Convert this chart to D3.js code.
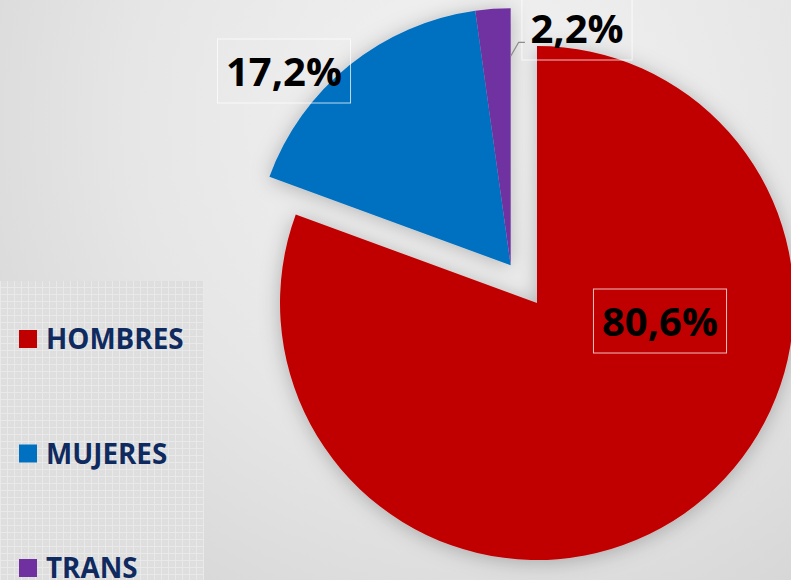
<!DOCTYPE html>
<html>
<head>
<meta charset="utf-8">
<script src="https://cdn.jsdelivr.net/npm/d3@7"></script>
<style>
  html, body { margin: 0; padding: 0; overflow: hidden; }
  svg { display: block; }
</style>
</head>
<body>
<script>
// ---- data ----
const categories = ["HOMBRES", "MUJERES", "TRANS"];
const values = [80.6, 17.2, 2.2];
const valueLabels = ["80,6%", "17,2%", "2,2%"];
const colors = ["#C00000", "#0070C0", "#7030A0"];
const exploded = [false, true, true];

// ---- layout ----
const W = 791, H = 580;
const cx = 537, cy = 303, R = 257, explodeDist = 46;
const labelBoxes = [ // centers of label boxes
  [660, 321], [284, 71], [577, 28]
];
const boxH = 64, boxPad = 8.5;

const svg = d3.select("body").append("svg").attr("width", W).attr("height", H);
const defs = svg.append("defs");

const bg = defs.append("radialGradient").attr("id", "bg")
  .attr("gradientUnits", "userSpaceOnUse")
  .attr("cx", 470).attr("cy", 120).attr("r", 620);
bg.append("stop").attr("offset", "0").attr("stop-color", "#f3f3f3");
bg.append("stop").attr("offset", "0.55").attr("stop-color", "#e6e6e6");
bg.append("stop").attr("offset", "1").attr("stop-color", "#d3d3d3");

const pat = defs.append("pattern").attr("id", "grid")
  .attr("patternUnits", "userSpaceOnUse").attr("width", 7).attr("height", 7);
pat.append("rect").attr("width", 7).attr("height", 7).attr("fill", "#dedede");
pat.append("rect").attr("x", 0).attr("y", 0).attr("width", 7).attr("height", 1).attr("fill", "#e9e9e9");
pat.append("rect").attr("x", 0).attr("y", 0).attr("width", 1).attr("height", 7).attr("fill", "#e9e9e9");
pat.append("rect").attr("x", 3).attr("y", 3).attr("width", 1).attr("height", 1).attr("fill", "#e3e3e3");

const sh = defs.append("filter").attr("id", "shadow")
  .attr("x", "-20%").attr("y", "-20%").attr("width", "140%").attr("height", "140%");
sh.append("feDropShadow").attr("dx", 0).attr("dy", 2).attr("stdDeviation", 10)
  .attr("flood-color", "#000").attr("flood-opacity", 0.25);

svg.append("rect").attr("width", W).attr("height", H).attr("fill", "url(#bg)");

// legend panel
svg.append("rect").attr("x", 0).attr("y", 281).attr("width", 204).attr("height", H - 281)
  .attr("fill", "url(#grid)");

// ---- pie ----
const pie = d3.pie().sort(null).value(d => d);
const arcs = pie(values);
const arc = d3.arc().innerRadius(0).outerRadius(R);

// explosion offset along the bisector of the exploded group
const exp = arcs.filter((a, i) => exploded[i]);
const gStart = d3.min(exp, a => a.startAngle), gEnd = d3.max(exp, a => a.endAngle);
const gMid = (gStart + gEnd) / 2;
const ox = Math.sin(gMid) * explodeDist, oy = -Math.cos(gMid) * explodeDist;

const pieG = svg.append("g").attr("filter", "url(#shadow)");
pieG.selectAll("path").data(arcs).join("path")
  .attr("transform", (d, i) => `translate(${cx + (exploded[i] ? ox : 0)},${cy + (exploded[i] ? oy : 0)})`)
  .attr("d", arc)
  .attr("fill", (d, i) => colors[i]);

// labels
const lg = svg.append("g");
const boxLefts = [];
labelBoxes.forEach((c, i) => {
  const t = lg.append("text")
    .attr("x", c[0]).attr("y", c[1] + 15)
    .attr("text-anchor", "middle")
    .attr("font-family", "'Open Sans', sans-serif")
    .attr("font-weight", 700)
    .attr("font-size", 40)
    .attr("fill", "#000")
    .text(valueLabels[i]);
  const bw = t.node().getComputedTextLength() + boxPad * 2;
  boxLefts.push(c[0] - bw / 2);
  lg.insert("rect", "text")
    .attr("x", c[0] - bw / 2).attr("y", c[1] - boxH / 2)
    .attr("width", bw).attr("height", boxH)
    .attr("fill", "none").attr("stroke", "#ffffff").attr("stroke-opacity", 0.75).attr("stroke-width", 1);
});

// leader line for small slice
const pa = arcs[2];
const ax = cx + ox + Math.sin(pa.endAngle - 0.0001) * 209;
const ay = cy + oy - Math.cos(pa.endAngle - 0.0001) * 209;
svg.append("polyline")
  .attr("points", `${ax},${ay} ${ax + 8},${ay - 14} ${boxLefts[2] + 3},${ay - 14}`)
  .attr("fill", "none").attr("stroke", "#8c8c8c").attr("stroke-width", 1.3);

// legend
const legY = d3.scalePoint().domain(categories).range([339, 568]);
const leg = svg.append("g");
categories.forEach((c, i) => {
  const y = legY(c);
  leg.append("rect").attr("x", 19).attr("y", y - 9).attr("width", 18).attr("height", 18).attr("fill", colors[i]);
  leg.append("text").attr("x", 46).attr("y", y + 10)
    .attr("font-family", "'Open Sans', sans-serif").attr("font-weight", 700)
    .attr("font-size", 27.8).attr("fill", "#0f2a5f")
    .text(c);
});
</script>
</body>
</html>
